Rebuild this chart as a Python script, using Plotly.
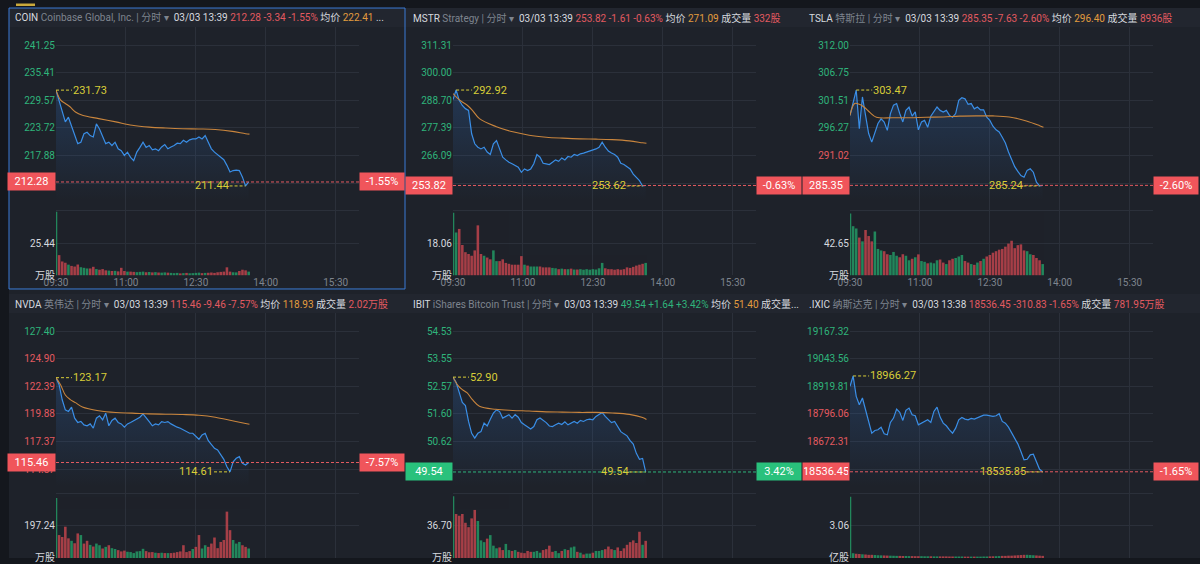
import plotly.graph_objects as go

# ---------------- data ----------------
MINUTES = [0, 4, 8, 12, 16, 20, 24, 28, 32, 36, 40, 44, 48, 52, 56, 60, 64, 68, 72, 76,
           80, 84, 88, 92, 96, 100, 104, 108, 112, 116, 120, 124, 128, 132, 136, 140,
           144, 148, 152, 156, 160, 164, 168, 172, 176, 180, 184, 188, 192, 196, 200,
           204, 208, 212, 216, 220, 224, 228, 232, 236, 240, 244, 248]
AVG_MINUTES = [0, 6, 12, 18, 25, 34, 55, 77, 98, 120, 141, 163, 184, 205, 227, 244, 249]
TIME_TICKS = [0, 90, 180, 270, 360, 390]
TIME_LABELS = ["09:30", "11:00", "12:30", "14:00", "15:30", ""]

COIN_PRICE = [231.73, 229.6, 227.1, 225.0, 226.0, 224.2, 222.5, 220.4, 220.7, 222.5,
              222.8, 222.1, 221.8, 224.6, 223.5, 222.1, 220.4, 220.7, 220.0, 220.7,
              219.3, 218.9, 217.9, 218.6, 217.5, 216.8, 218.6, 219.6, 220.7, 219.6,
              220.0, 219.1, 219.3, 218.9, 219.7, 220.2, 219.3, 219.7, 220.0, 220.5,
              220.4, 221.1, 220.7, 221.2, 221.4, 221.4, 221.8, 221.4, 222.1, 220.7,
              219.3, 218.6, 218.1, 217.7, 217.0, 215.8, 214.4, 214.7, 214.8, 214.7,
              213.3, 211.44, 212.28]
COIN_AVG = [231.7, 229.6, 228.9, 228.2, 227.1, 226.4, 225.7, 225.0, 224.3, 223.9,
            223.7, 223.55, 223.5, 223.4, 223.0, 222.5, 222.41]
COIN_VOL = [50.1, 16, 11, 10, 8.5, 7.5, 7, 8.6, 6.5, 6, 5.5, 5.5, 6.8, 5, 4.5, 5, 4,
            3.8, 3.5, 3.6, 3.2, 6, 3.5, 3, 3, 2.8, 2.6, 2.8, 3, 2.5, 2.7, 2.4, 2.6,
            2.3, 2.2, 2.4, 2.2, 2.0, 1.8, 2.0, 1.6, 1.8, 2.0, 1.7, 1.8, 2.0, 2.2, 1.8,
            2.0, 2.1, 2.3, 2.0, 2.5, 2.8, 3.0, 6.4, 3.0, 2.5, 2.4, 3.5, 4.5, 4.0, 3.0]
COIN_TICKS = ["241.25", "235.41", "229.57", "223.72", "217.88", "212.04"]
COIN_PCTS = ["11.89%", "9.18%", "6.47%", "3.76%", "1.05%", "-1.66%"]

MSTR_PRICE = [289.0, 292.92, 288.7, 286.6, 285.3, 284.6, 275.0, 270.9, 269.5, 268.8,
              269.5, 267.5, 266.5, 270.9, 272.2, 268.8, 265.4, 264.3, 263.3, 262.7,
              262.0, 261.3, 259.2, 260.6, 259.9, 260.6, 262.7, 266.5, 265.4, 262.9,
              262.7, 262.4, 263.3, 264.3, 263.7, 265.1, 264.3, 265.7, 265.4, 266.5,
              266.1, 266.8, 267.1, 267.5, 267.9, 268.4, 268.8, 269.5, 271.6, 269.5,
              267.9, 267.1, 266.5, 265.4, 262.9, 262.4, 261.3, 260.6, 258.5, 257.2,
              255.8, 253.62, 253.82]
MSTR_AVG = [291.5, 289.5, 288.0, 286.8, 284.6, 281.2, 278.0, 275.8, 274.4, 273.6,
            273.2, 272.9, 272.8, 272.6, 272.1, 271.3, 271.09]
MSTR_VOL = [35, 24, 26, 17, 13, 12, 11, 14, 28, 12, 11, 10, 9, 14, 8, 8, 9, 7, 6.5, 6,
            6, 6, 10.8, 6, 5.5, 5, 5, 5, 5, 4.5, 4.5, 4.5, 4.2, 4, 3.5, 3.8, 3.5, 3.5,
            3.8, 3.3, 3.3, 3.5, 3.2, 3.5, 3.2, 3.5, 3.3, 4, 7, 4, 3.5, 3.5, 3.2, 3.5,
            3.2, 3.5, 4.5, 4.2, 4.8, 5.5, 6, 6.5, 7]
MSTR_TICKS = ["311.31", "300.00", "288.70", "277.39", "266.09", "254.78"]
MSTR_PCTS = ["21.88%", "17.45%", "13.02%", "8.60%", "4.17%", "-0.26%"]

TSLA_PRICE = [298.65, 301.0, 303.47, 296.1, 302.15, 298.65, 295.2, 293.57, 295.5, 297.1,
              298.0, 297.4, 295.8, 299.0, 300.6, 300.9, 299.0, 297.4, 299.6, 300.2,
              298.5, 299.3, 295.9, 297.4, 297.7, 296.4, 298.5, 299.3, 300.25, 299.6,
              299.3, 299.6, 298.65, 298.3, 299.0, 301.5, 302.0, 301.8, 300.75, 300.9,
              299.9, 300.25, 299.7, 299.7, 298.3, 297.7, 296.6, 295.9, 295.5, 294.5,
              293.4, 291.7, 290.2, 288.9, 288.0, 287.2, 286.9, 288.2, 288.5, 287.85,
              285.95, 285.24, 285.35]
TSLA_AVG = [298.65, 300.9, 300.75, 300.25, 299.3, 298.3, 298.2, 298.2, 298.3, 298.35,
            298.5, 298.55, 298.55, 298.35, 297.6, 296.7, 296.40]
TSLA_VOL = [81.7, 65, 62, 50, 45, 60, 52, 45, 58, 35, 33, 32, 28, 27, 31, 26, 24, 28,
            26, 20, 22, 24, 27.8, 19, 18, 16, 17, 16, 20, 21, 17, 15, 20, 22, 23, 25,
            27, 19, 17, 15, 14, 17, 19, 22, 25, 27, 30, 32, 34, 35, 38, 42, 45.8, 36,
            40, 41, 33, 32, 28, 27, 23, 20, 15]
TSLA_TICKS = ["312.00", "306.75", "301.51", "296.27", "291.02", "285.78"]
TSLA_PCTS = ["6.49%", "4.70%", "2.91%", "1.12%", "-0.67%", "-2.46%"]

NVDA_PRICE = [123.17, 122.53, 121.16, 120.25, 120.1, 120.5, 119.49, 119.1, 119.2, 118.88,
              118.8, 118.97, 118.58, 119.49, 119.7, 119.34, 119.94, 118.8, 119.28, 119.49,
              119.1, 118.97, 118.67, 118.97, 119.1, 119.25, 119.4, 119.58, 119.88, 119.58,
              119.18, 118.8, 118.97, 118.88, 119.18, 119.1, 119.18, 118.97, 118.8, 118.67,
              118.58, 118.43, 118.25, 118.12, 118.12, 117.82, 117.57, 117.97, 118.12,
              117.45, 117.15, 116.75, 116.6, 116.14, 115.75, 115.08, 114.61, 115.53,
              115.84, 115.99, 115.38, 115.23, 115.46]
NVDA_AVG = [123.17, 122.5, 121.6, 121.2, 120.9, 120.5, 120.16, 120.0, 119.95, 119.88,
            119.85, 119.82, 119.76, 119.58, 119.25, 119.0, 118.93]
NVDA_VOL = [366, 140, 128, 191, 120, 105, 90, 150, 140, 88, 105, 80, 70, 88, 78, 58, 68,
            78, 60, 55, 48, 40, 45, 38, 36, 30, 40, 42, 56, 42, 35, 36, 32, 30, 32, 30,
            30, 30, 32, 36, 40, 78, 36, 42, 55, 68, 140, 58, 78, 68, 88, 125, 60, 98,
            110, 283, 170, 110, 88, 98, 78, 68, 58]
NVDA_TICKS = ["127.40", "124.90", "122.39", "119.88", "117.37", "114.87"]
NVDA_PCTS = ["1.99%", "-0.02%", "-2.03%", "-4.03%", "-6.04%", "-8.05%"]

IBIT_PRICE = [52.90, 52.72, 52.36, 52.00, 51.89, 51.33, 50.91, 50.74, 50.91, 50.97,
              51.27, 51.17, 51.41, 51.63, 51.74, 51.68, 51.45, 51.51, 51.57, 51.45,
              51.57, 51.48, 51.29, 51.21, 51.15, 51.06, 51.15, 51.39, 51.45, 51.37,
              51.29, 51.17, 51.15, 51.21, 51.27, 51.22, 51.32, 51.21, 51.27, 51.33,
              51.27, 51.37, 51.33, 51.39, 51.41, 51.39, 51.51, 51.59, 51.65, 51.51,
              51.39, 51.29, 51.33, 51.13, 50.97, 50.89, 50.82, 50.65, 50.53, 50.20,
              49.99, 50.02, 49.54]
IBIT_AVG = [52.90, 52.62, 52.46, 52.35, 52.10, 51.87, 51.76, 51.72, 51.70, 51.67,
            51.66, 51.65, 51.65, 51.63, 51.58, 51.47, 51.40]
IBIT_VOL = [70, 50, 48, 50, 40, 35, 45, 54.6, 42, 20, 18, 22, 26, 14, 11, 12, 9, 16, 9,
            8, 9, 7, 6, 5.5, 8, 7, 7, 8, 6, 9, 10, 14, 7, 8, 5.5, 8, 10, 9, 12, 13, 7,
            6, 4, 5, 5, 6, 8, 8, 9, 10, 13, 10, 9, 12, 8, 11, 15, 18, 20, 17, 29.8, 15,
            19.5]
IBIT_TICKS = ["54.53", "53.55", "52.57", "51.60", "50.62", "49.64"]
IBIT_PCTS = ["13.84%", "11.80%", "9.76%", "7.71%", "5.67%", "3.63%"]

IXIC_PRICE = [18919.8, 18966.27, 18874.8, 18837.3, 18867.3, 18814.8, 18772.8, 18709.8,
              18721.8, 18724.8, 18736.8, 18706.8, 18702.3, 18757.8, 18777.3, 18817.8,
              18802.8, 18766.8, 18811.8, 18822.3, 18792.3, 18787.8, 18747.3, 18754.8,
              18762.3, 18769.8, 18757.8, 18807.3, 18826.8, 18781.8, 18754.8, 18742.8,
              18724.8, 18709.8, 18732.3, 18769.8, 18780.3, 18772.8, 18769.8, 18775.8,
              18772.8, 18778.8, 18787.8, 18790.8, 18790.8, 18787.8, 18784.8, 18787.8,
              18796.8, 18762.3, 18754.8, 18736.8, 18712.8, 18691.8, 18661.8, 18627.3,
              18589.8, 18592.8, 18612.3, 18615.3, 18577.8, 18547.8, 18536.45]
IXIC_VOL = [5.8, 0.45, 0.4, 0.38, 0.35, 0.33, 0.3, 0.3, 0.28, 0.26, 0.25, 0.24, 0.23,
            0.22, 0.21, 0.2, 0.2, 0.19, 0.19, 0.18, 0.18, 0.17, 0.17, 0.17, 0.16, 0.16,
            0.16, 0.15, 0.15, 0.15, 0.15, 0.15, 0.14, 0.14, 0.14, 0.14, 0.14, 0.13,
            0.13, 0.13, 0.13, 0.13, 0.13, 0.14, 0.14, 0.15, 0.16, 0.17, 0.18, 0.2, 0.2,
            0.22, 0.22, 0.24, 0.26, 0.28, 0.3, 0.3, 0.28, 0.26, 0.24, 0.22, 0.2]
IXIC_TICKS = ["19167.32", "19043.56", "18919.81", "18796.06", "18672.31", "18548.56"]
IXIC_PCTS = ["1.70%", "1.04%", "0.38%", "-0.27%", "-0.93%", "-1.58%"]

CODES = ["COIN", "MSTR", "TSLA", "NVDA", "IBIT", ".IXIC"]
NAMES = ["Coinbase Global, Inc.", "Strategy", "特斯拉", "英伟达", "iShares Bitcoin Trust", "纳斯达克"]
TIMES = ["03/03 13:39", "03/03 13:39", "03/03 13:39", "03/03 13:39", "03/03 13:39", "03/03 13:38"]
LAST_TXT = ["212.28", "253.82", "285.35", "115.46", "49.54", "18536.45"]
CHG_TXT = ["-3.34", "-1.61", "-7.63", "-9.46", "+1.64", "-310.83"]
CHGPCT_TXT = ["-1.55%", "-0.63%", "-2.60%", "-7.57%", "+3.42%", "-1.65%"]
BOX_PCT_TXT = ["-1.55%", "-0.63%", "-2.60%", "-7.57%", "3.42%", "-1.65%"]
AVG_TXT = ["222.41", "271.09", "296.40", "118.93", "51.40", None]
VOLUME_TXT = [None, "332股", "8936股", "2.02万股", None, "781.95万股"]
VOL_MID = ["25.44", "18.06", "42.65", "197.24", "36.70", "3.06"]
VOL_UNIT = ["万股", "万股", "万股", "万股", "万股", "亿股"]
HIGH_VAL = [231.73, 292.92, 303.47, 123.17, 52.90, 18966.27]
HIGH_MIN = [0, 4, 8, 0, 0, 4]
LOW_VAL = [211.44, 253.62, 285.24, 114.61, 49.54, 18535.85]
LOW_MIN = [244, 244, 244, 224, 248, 248]

PRICES = [COIN_PRICE, MSTR_PRICE, TSLA_PRICE, NVDA_PRICE, IBIT_PRICE, IXIC_PRICE]
AVGS = [COIN_AVG, MSTR_AVG, TSLA_AVG, NVDA_AVG, IBIT_AVG, None]
VOLS = [COIN_VOL, MSTR_VOL, TSLA_VOL, NVDA_VOL, IBIT_VOL, IXIC_VOL]
TICKS = [COIN_TICKS, MSTR_TICKS, TSLA_TICKS, NVDA_TICKS, IBIT_TICKS, IXIC_TICKS]
PCTS = [COIN_PCTS, MSTR_PCTS, TSLA_PCTS, NVDA_PCTS, IBIT_PCTS, IXIC_PCTS]

# ---------------- style / geometry ----------------
W, H = 1200, 564
FONT = "Roboto, 'Noto Sans CJK SC', sans-serif"
PAPER = "#14171d"
PANEL = "#1e222a"
HEADER = "#22262f"
GRID = "#2b303a"
WHITE = "#d6d9df"
GRAY = "#7e848e"
UP = "#2fb47b"
DOWN = "#e35a60"
BOX_UP = "#29c17c"
BOX_DOWN = "#f0555b"
ORANGE = "#e29c3e"
AVG_LINE = "#c9853d"
BLUE = "#3a8ee6"
YELLOW = "#d8cd38"
BAR_UP = "#23a068"
BAR_DOWN = "#c9474f"
FS = 10

# layout positions are given in target-picture pixels; the photographed page
# shows the figure shifted/scaled slightly, so map target pixels back to paper.
SHIFT_X, SCALE_X, SCALE_Y = 13.0, 0.99, 0.986

COL_PLOT_X = [57, 454, 851]
PLOT_W = 303
COL_PANEL = [(10, 406), (408, 801), (804, 1200)]
ROW_OFF = [0, 285]
ROW_PANEL = [(8, 288), (293, 564)]
TICK0_Y, TICK_GAP = 45, 27.5
PRICE_TOP, PRICE_BOT = 27, 200
VOL_BOT_ROW = [274.5, 273.0]
VOL_GRID_GAP = 32.2
MAX_Y = H * SCALE_Y - 0.01
DASH_MIN = 16 * 390 / PLOT_W


def px(x):
    return (x - SHIFT_X) / SCALE_X / W


def py(y):
    return 1 - (min(y, MAX_Y) / SCALE_Y) / H


def ax(prefix, n):
    return prefix if n == 1 else f"{prefix}{n}"


def key(prefix, n):
    return f"{prefix}axis" if n == 1 else f"{prefix}axis{n}"


fig = go.Figure()
layout = {}
shapes = []
annotations = []

for (ry0, ry1) in ROW_PANEL:
    for (cx0, cx1) in COL_PANEL:
        shapes.append(dict(type="rect", xref="paper", yref="paper", x0=px(cx0), x1=max(px(cx1), 1.0),
                           y0=min(py(ry1), 0.0), y1=py(ry0), fillcolor=PANEL, line=dict(width=0), layer="below"))
        shapes.append(dict(type="rect", xref="paper", yref="paper", x0=px(cx0), x1=max(px(cx1), 1.0),
                           y0=py(ry0 + 19), y1=py(ry0), fillcolor=HEADER, line=dict(width=0), layer="below"))

tickfont = dict(family=FONT, size=FS, color=WHITE)

for i in range(6):
    col, row = i % 3, i // 3
    off = ROW_OFF[row]
    x0 = COL_PLOT_X[col]
    x1 = x0 + PLOT_W
    xp, xv = 2 * i + 1, 2 * i + 2
    yp, yr, yv, yvr = 4 * i + 1, 4 * i + 2, 4 * i + 3, 4 * i + 4
    vbot = min(VOL_BOT_ROW[row] + off, MAX_Y)

    tvals = [float(t) for t in TICKS[i]]
    step = (tvals[0] - tvals[4]) / 4

    def price_at(ypix, tv0=tvals[0], st=step):
        return tv0 - (ypix - TICK0_Y) / TICK_GAP * st

    prange = [price_at(PRICE_BOT), price_at(PRICE_TOP)]
    up_flags = [not s.startswith("-") for s in PCTS[i]]
    left_txt = [f'<span style="color:{UP if u else DOWN}">{t}</span>' for t, u in zip(TICKS[i], up_flags)]
    right_txt = [f'<span style="color:{UP if u else DOWN}">{t}</span>' for t, u in zip(PCTS[i], up_flags)]

    vmid = float(VOL_MID[i])
    vrange = [0, vmid * (vbot - (PRICE_BOT + off)) / VOL_GRID_GAP]
    vticks = [0, vmid, 2 * vmid]
    vtext = [VOL_UNIT[i], VOL_MID[i], ""]

    xdom = [px(x0), px(x1)]
    common_x = dict(domain=xdom, range=[0, 390], tickmode="array", tickvals=TIME_TICKS,
                    ticktext=TIME_LABELS, showgrid=True, gridcolor=GRID, gridwidth=1,
                    zeroline=False, showline=False, ticks="", fixedrange=True,
                    tickfont=dict(family=FONT, size=FS, color=GRAY))
    layout[key("x", xp)] = dict(common_x, anchor=ax("y", yp), showticklabels=False)
    layout[key("x", xv)] = dict(common_x, anchor=ax("y", yv), showticklabels=(row == 0))

    pdom = [py(PRICE_BOT + off), py(PRICE_TOP + off)]
    vdom = [max(py(vbot), 0.0), py(PRICE_BOT + off)]
    ycommon = dict(zeroline=False, ticks="", tickfont=tickfont, fixedrange=True,
                   ticklabeloverflow="allow", tickmode="array")
    layout[key("y", yp)] = dict(ycommon, domain=pdom, range=prange, anchor=ax("x", xp),
                                tickvals=tvals, ticktext=left_txt, showgrid=True, gridcolor=GRID)
    layout[key("y", yr)] = dict(ycommon, range=prange, overlaying=ax("y", yp), side="right",
                                anchor=ax("x", xp), tickvals=tvals, ticktext=right_txt, showgrid=False)
    layout[key("y", yv)] = dict(ycommon, domain=vdom, range=vrange, anchor=ax("x", xv),
                                tickvals=vticks, ticktext=vtext, showgrid=True, gridcolor=GRID)
    layout[key("y", yvr)] = dict(ycommon, range=vrange, overlaying=ax("y", yv), side="right",
                                 anchor=ax("x", xv), tickvals=vticks, ticktext=vtext, showgrid=False)

    price = PRICES[i]
    fig.add_trace(go.Scatter(x=[MINUTES[0], MINUTES[-1]], y=[prange[0], prange[0]], mode="lines",
                             line=dict(width=0, color="rgba(0,0,0,0)"), hoverinfo="skip",
                             showlegend=False, xaxis=ax("x", xp), yaxis=ax("y", yp)))
    fig.add_trace(go.Scatter(x=MINUTES, y=price, mode="lines", line=dict(color=BLUE, width=1.2),
                             fill="tonexty",
                             fillgradient=dict(type="vertical",
                                               colorscale=[[0, "rgba(50,120,210,0.0)"],
                                                           [1, "rgba(50,120,210,0.24)"]]),
                             showlegend=False, xaxis=ax("x", xp), yaxis=ax("y", yp)))
    if AVGS[i] is not None:
        fig.add_trace(go.Scatter(x=AVG_MINUTES, y=AVGS[i], mode="lines", line_shape="spline",
                                 line=dict(color=AVG_LINE, width=1.1), showlegend=False,
                                 xaxis=ax("x", xp), yaxis=ax("y", yp)))

    bar_colors = [BAR_UP] + [BAR_UP if price[k] >= price[k - 1] else BAR_DOWN for k in range(1, len(price))]
    fig.add_trace(go.Bar(x=MINUTES, y=VOLS[i], width=3.3, marker=dict(color=bar_colors, line=dict(width=0)),
                         opacity=0.8, showlegend=False, xaxis=ax("x", xv), yaxis=ax("y", yv)))

    last = float(LAST_TXT[i])
    is_up = not CHG_TXT[i].startswith("-")
    lc = UP if is_up else DOWN
    box = BOX_UP if is_up else BOX_DOWN
    xd = "x domain" if xp == 1 else f"x{xp} domain"
    shapes.append(dict(type="line", xref=xd, yref=ax("y", yp), x0=0, x1=1, y0=last, y1=last,
                       line=dict(color=lc, width=1, dash="3px,2px"), layer="above"))

    annotations.append(dict(xref="paper", yref=ax("y", yp), x=px(x0), y=last, xanchor="right",
                            yanchor="middle", text=LAST_TXT[i], showarrow=False, bgcolor=box,
                            width=45 if col == 0 else 44, height=15, borderpad=1,
                            font=dict(family=FONT, size=11, color="#ffffff")))
    annotations.append(dict(xref="paper", yref=ax("y", yp), x=px(x1), y=last, xanchor="left",
                            yanchor="middle", text=BOX_PCT_TXT[i], showarrow=False, bgcolor=box,
                            width=42, height=15, borderpad=1,
                            font=dict(family=FONT, size=11, color="#ffffff")))

    shapes.append(dict(type="line", xref=ax("x", xp), yref=ax("y", yp), x0=HIGH_MIN[i],
                       x1=HIGH_MIN[i] + DASH_MIN, y0=HIGH_VAL[i], y1=HIGH_VAL[i],
                       line=dict(color=YELLOW, width=1, dash="3px,2px"), layer="above"))
    annotations.append(dict(xref=ax("x", xp), yref=ax("y", yp), x=HIGH_MIN[i] + DASH_MIN, y=HIGH_VAL[i],
                            xanchor="left", yanchor="middle", text=f"{HIGH_VAL[i]:.2f}", xshift=-1,
                            showarrow=False, font=dict(family=FONT, size=FS + 1, color=YELLOW)))
    shapes.append(dict(type="line", xref=ax("x", xp), yref=ax("y", yp), x0=LOW_MIN[i] - DASH_MIN,
                       x1=LOW_MIN[i], y0=LOW_VAL[i], y1=LOW_VAL[i],
                       line=dict(color=YELLOW, width=1, dash="3px,2px"), layer="above"))
    annotations.append(dict(xref=ax("x", xp), yref=ax("y", yp), x=LOW_MIN[i] - DASH_MIN, y=LOW_VAL[i],
                            xanchor="right", yanchor="middle", text=f"{LOW_VAL[i]:.2f}", xshift=1,
                            showarrow=False, font=dict(family=FONT, size=FS + 1, color=YELLOW)))

    head = (f'<span style="color:{WHITE}">{CODES[i]}</span> '
            f'<span style="color:{GRAY}">{NAMES[i]} | 分时 ▾</span>  '
            f'<span style="color:{WHITE}">{TIMES[i]}</span> '
            f'<span style="color:{lc}">{LAST_TXT[i]} {CHG_TXT[i]} {CHGPCT_TXT[i]}</span> ')
    if AVG_TXT[i] is not None:
        head += (f'<span style="color:{WHITE}">均价</span> '
                 f'<span style="color:{ORANGE}">{AVG_TXT[i]}</span> ')
    if VOLUME_TXT[i] is None:
        head += f'<span style="color:{WHITE}">{"成交量..." if i == 4 else "..."}</span>'
    else:
        head += (f'<span style="color:{WHITE}">成交量</span> '
                 f'<span style="color:{DOWN}">{VOLUME_TXT[i]}</span>')
    annotations.append(dict(xref="paper", yref="paper", x=px(COL_PANEL[col][0] + 4),
                            y=py(ROW_PANEL[row][0] + 9.5), xanchor="left", yanchor="middle",
                            text=head, showarrow=False, font=dict(family=FONT, size=FS, color=WHITE)))

shapes.append(dict(type="rect", xref="paper", yref="paper", x0=px(10), x1=px(406), y0=py(288), y1=py(8),
                   line=dict(color="#3b7bd6", width=1), fillcolor="rgba(0,0,0,0)", layer="above"))
shapes.append(dict(type="rect", xref="paper", yref="paper", x0=px(17), x1=px(36), y0=py(6), y1=py(3.5),
                   line=dict(width=0), fillcolor="#c9a93c", layer="above"))

fig.update_layout(width=W, height=H, margin=dict(l=0, r=0, t=0, b=0), paper_bgcolor=PAPER,
                  plot_bgcolor="rgba(0,0,0,0)", showlegend=False, shapes=shapes,
                  annotations=annotations, font=dict(family=FONT, size=FS, color=WHITE),
                  hovermode=False, **layout)

fig.write_html("out.html", config={"displayModeBar": False, "staticPlot": True},
               post_script="document.body.style.margin='0px';document.body.style.overflow='hidden';"
                           "document.body.style.background='" + PANEL + "';"
                           "document.documentElement.style.background='" + PANEL + "';")
